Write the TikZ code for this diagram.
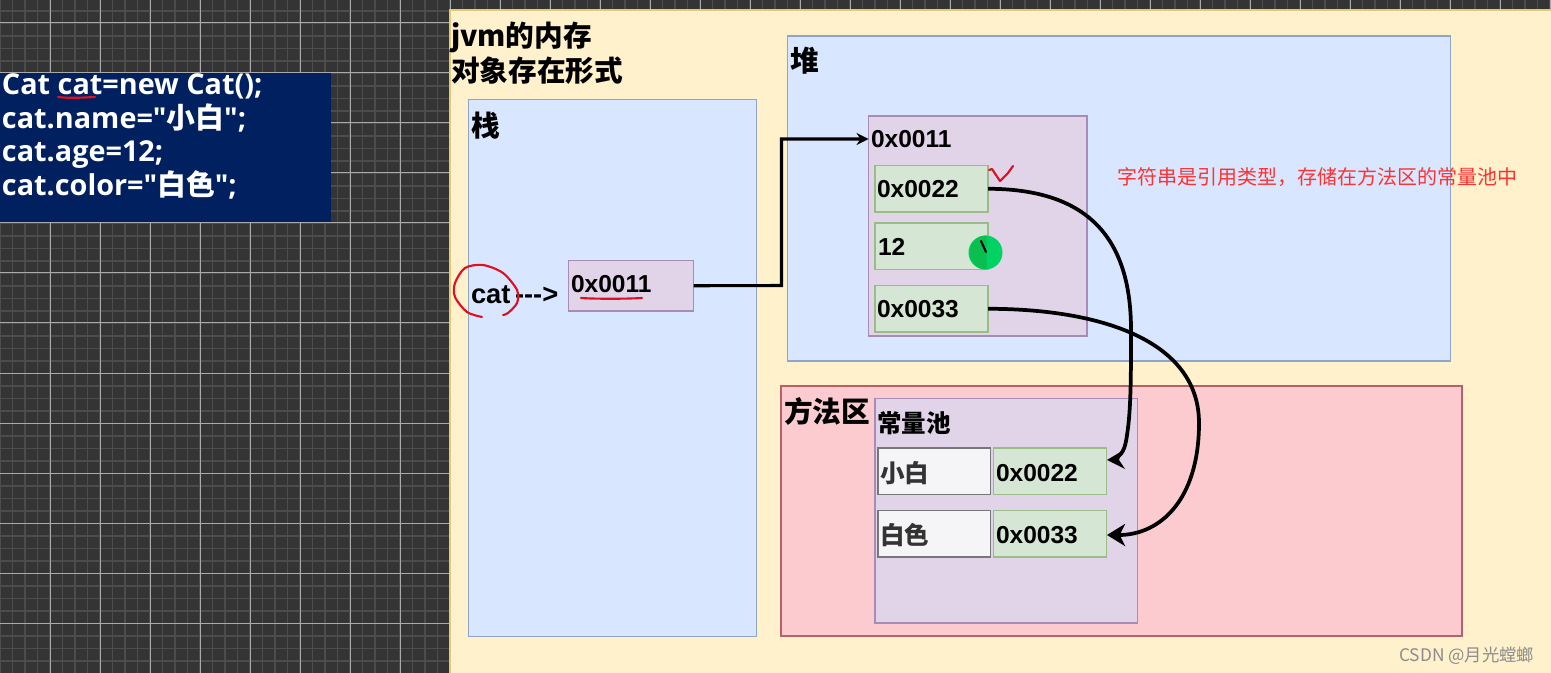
\documentclass[tikz,border=0pt]{standalone}
\usepackage{fontspec}
\setmainfont{Liberation Sans}
\newfontfamily\cjk{Noto Sans CJK SC}
\newfontfamily\codefont{Open Sans}[BoldFont={Open Sans Bold}]
\usetikzlibrary{arrows.meta}
\definecolor{bgdark}{HTML}{343434}
\definecolor{gridminor}{HTML}{4C4C4C}
\definecolor{gridmajor}{HTML}{AAAAAA}
\definecolor{navy}{HTML}{002060}
\definecolor{inkred}{HTML}{DD1122}
\definecolor{yedge}{HTML}{E3C878}
\definecolor{yfill}{HTML}{FEF1CB}
\definecolor{bedge}{HTML}{8FA5C5}
\definecolor{bfill}{HTML}{D9E6FF}
\definecolor{pedge}{HTML}{A88CB8}
\definecolor{pfill}{HTML}{E2D4E8}
\definecolor{gedge}{HTML}{9ABD88}
\definecolor{gfill}{HTML}{D5E6D5}
\definecolor{redge}{HTML}{B86068}
\definecolor{rfill}{HTML}{FBCBD0}
\definecolor{wedge}{HTML}{777777}
\definecolor{wfill}{HTML}{F5F5F8}
\definecolor{notered}{HTML}{FF3232}
\definecolor{dotlight}{HTML}{00D264}
\definecolor{dotdark}{HTML}{0ABE50}
\tikzset{
  x=0.75pt,y=-0.75pt,
  panel/.style={line width=1pt,inner sep=0pt,outer sep=0pt,anchor=north west},
  yellowp/.style={panel,draw=yedge,fill=yfill},
  bluep/.style={panel,draw=bedge,fill=bfill},
  purplep/.style={panel,draw=pedge,fill=pfill},
  greenp/.style={panel,draw=gedge,fill=gfill},
  pinkp/.style={panel,draw=redge,fill=rfill},
  whitep/.style={panel,draw=wedge,fill=wfill},
  lbl/.style={anchor=base west,inner sep=0pt,outer sep=0pt,font=\bfseries\fontsize{18.4pt}{22pt}\selectfont,text=black},
  biglbl/.style={lbl,font=\bfseries\fontsize{20.5pt}{24pt}\selectfont},
  title/.style={anchor=base west,inner sep=0pt,outer sep=0pt,font=\cjk\bfseries\fontsize{21.5pt}{26pt}\selectfont,text=black},
  small/.style={anchor=base west,inner sep=0pt,outer sep=0pt,font=\cjk\bfseries\fontsize{18.4pt}{22pt}\selectfont,text=black!80},
  codeline/.style={anchor=base west,inner sep=0pt,outer sep=0pt,font=\codefont\bfseries\fontsize{21.6pt}{26pt}\selectfont,text=white},
  link/.style={line width=2.8pt,draw=black},
  inkline/.style={draw=inkred,line width=1.6pt,line cap=round,line join=round},
  tip/.style={-{Stealth[length=13.5pt,width=16.5pt,inset=4pt]}},
}
\begin{document}
\begin{tikzpicture}
\useasboundingbox (0,0) rectangle (1551,673);
\fill[bgdark] (0,0) rectangle (1551,673);
% grid
\foreach \i in {0,...,124} {\draw[gridminor,line width=0.8pt] ({12.5*\i},0) -- ({12.5*\i},673);}
\foreach \i in {0,...,54} {\draw[gridminor,line width=0.8pt] (0,{-1.5+12.5*\i}) -- (450,{-1.5+12.5*\i});}
\foreach \i in {1,...,31} {\draw[gridmajor,line width=0.75pt] ({50*\i},0) -- ({50*\i},673);}
\foreach \i in {0,...,13} {\draw[gridmajor,line width=0.75pt] (0,{23+50*\i}) -- (450,{23+50*\i});}
% code block
\fill[navy] (0,73) rectangle (331,222);
\node[codeline] (c1) at (2,94.5) {Cat cat=new Cat();};
\node[codeline] (c2) at (2,128.5) {cat.name="{\cjk 小白}";};
\node[codeline] (c3) at (2,162) {cat.age=12;};
\node[codeline] (c4) at (2,196) {cat.color="{\cjk 白色}";};
\draw[inkline] (58,97) .. controls (70,98.5) and (85,97.5) .. (95,97);
% panels
\path[yellowp] (450,10) rectangle (1553,675);
\node[title] (t1) at (451,47) {jvm的内存};
\node[title] (t2) at (451,82) {对象存在形式};
\node[bluep,minimum width=216pt,minimum height=402.75pt] (stack) at (468.5,99.5) {};
\node[title] (tstack) at (471,137) {栈};
\node[biglbl] (cat) at (471,304) {cat};
\node[biglbl] (dash) at (515,304) {-{}-{}->};
\node[purplep,minimum width=93.75pt,minimum height=37.9pt] (ref) at (568.5,260.5) {};
\node[lbl] (reft) at (571,293) {0x0011};
\node[bluep,minimum width=497.25pt,minimum height=243.75pt] (heap) at (787.5,36) {};
\node[title] (theap) at (790,72) {堆};
\node[purplep,minimum width=163.9pt,minimum height=165pt] (obj) at (868.5,116) {};
\node[lbl] (objt) at (871,148) {0x0011};
\node[greenp,minimum width=84.75pt,minimum height=34.9pt] (f1) at (875,165.5) {};
\node[lbl] (f1t) at (877,198) {0x0022};
\node[greenp,minimum width=84.75pt,minimum height=34.9pt] (f2) at (875,223) {};
\node[lbl] (f2t) at (878,256) {12};
\node[greenp,minimum width=84.75pt,minimum height=34.9pt] (f3) at (875,285.5) {};
\node[lbl] (f3t) at (877,318) {0x0033};
\node[anchor=base west,inner sep=0pt,font=\cjk\fontsize{15pt}{18pt}\selectfont,text=notered] (note) at (1117,185) {字符串是引用类型，存储在方法区的常量池中};
\node[pinkp,minimum width=510.75pt,minimum height=187.5pt] (method) at (781,386) {};
\node[title] (tmethod) at (784,422) {方法区};
\node[purplep,minimum width=196.9pt,minimum height=168.4pt] (pool) at (875,398.5) {};
\node[small,text=black] (tpool) at (877,432) {常量池};
\node[whitep,minimum width=84.4pt,minimum height=34.9pt] (w1) at (878,448) {};
\node[small] (w1t) at (880,482) {小白};
\node[greenp,minimum width=84.75pt,minimum height=34.9pt] (v1) at (993.5,448) {};
\node[lbl] (v1t) at (996,481) {0x0022};
\node[whitep,minimum width=84.4pt,minimum height=34.9pt] (w2) at (878,510.5) {};
\node[small] (w2t) at (880,544) {白色};
\node[greenp,minimum width=84.75pt,minimum height=34.9pt] (v2) at (993.5,510.5) {};
\node[lbl] (v2t) at (996,543) {0x0033};
% green mark
\fill[dotlight] (985.5,252.5) circle[radius=17];
\fill[dotdark] (986.5,235.5) arc[start angle=-90,end angle=-270,radius=17] -- cycle;
\draw[black,line width=1.5pt,line cap=round] (981,241) -- (986,252);
% connectors
\coordinate (a1) at (1107,460);
\coordinate (a2) at (1107,535);
\coordinate (obje) at (868.5,139);
\draw[link,line width=2.3pt,-{Stealth[length=9pt,width=9pt,inset=3pt]}] (ref.east) -- (781.5,285.5) -- (781.5,139) -- (obje);
\draw[link] (f1.east) .. controls (1085,189) and (1131,235) .. (1131,330)
  .. controls (1131,375) and (1131,410) .. (1127,435)
  .. controls (1125,450) and (1122,455) .. (1114,459);
\fill (a1) -- (1122,451) -- (1119,460) -- (1125,469) -- cycle;
\draw[link,tip] (f3.east) .. controls (1110,309) and (1199,345) .. (1199,423)
  .. controls (1199,500) and (1160,535) .. (a2);
% ink
\draw[inkline] plot[smooth] coordinates {(482,317) (467,312) (455,297) (455,283) (465,268) (483,265) (503,273) (517,290) (517,303) (508,313) (503,315)};
\draw[inkline] (581,298) .. controls (595,299) and (625,299) .. (642,298);
\draw[inkline] (989,170) -- (992,169) -- (1000,181) -- (1008,173) -- (1013,166);
% watermark
\node[anchor=base west,inner sep=0pt,font=\cjk\fontsize{13pt}{15pt}\selectfont,text=black!45] (wm) at (1399,661) {CSDN @月光螳螂};
\end{tikzpicture}
\end{document}
